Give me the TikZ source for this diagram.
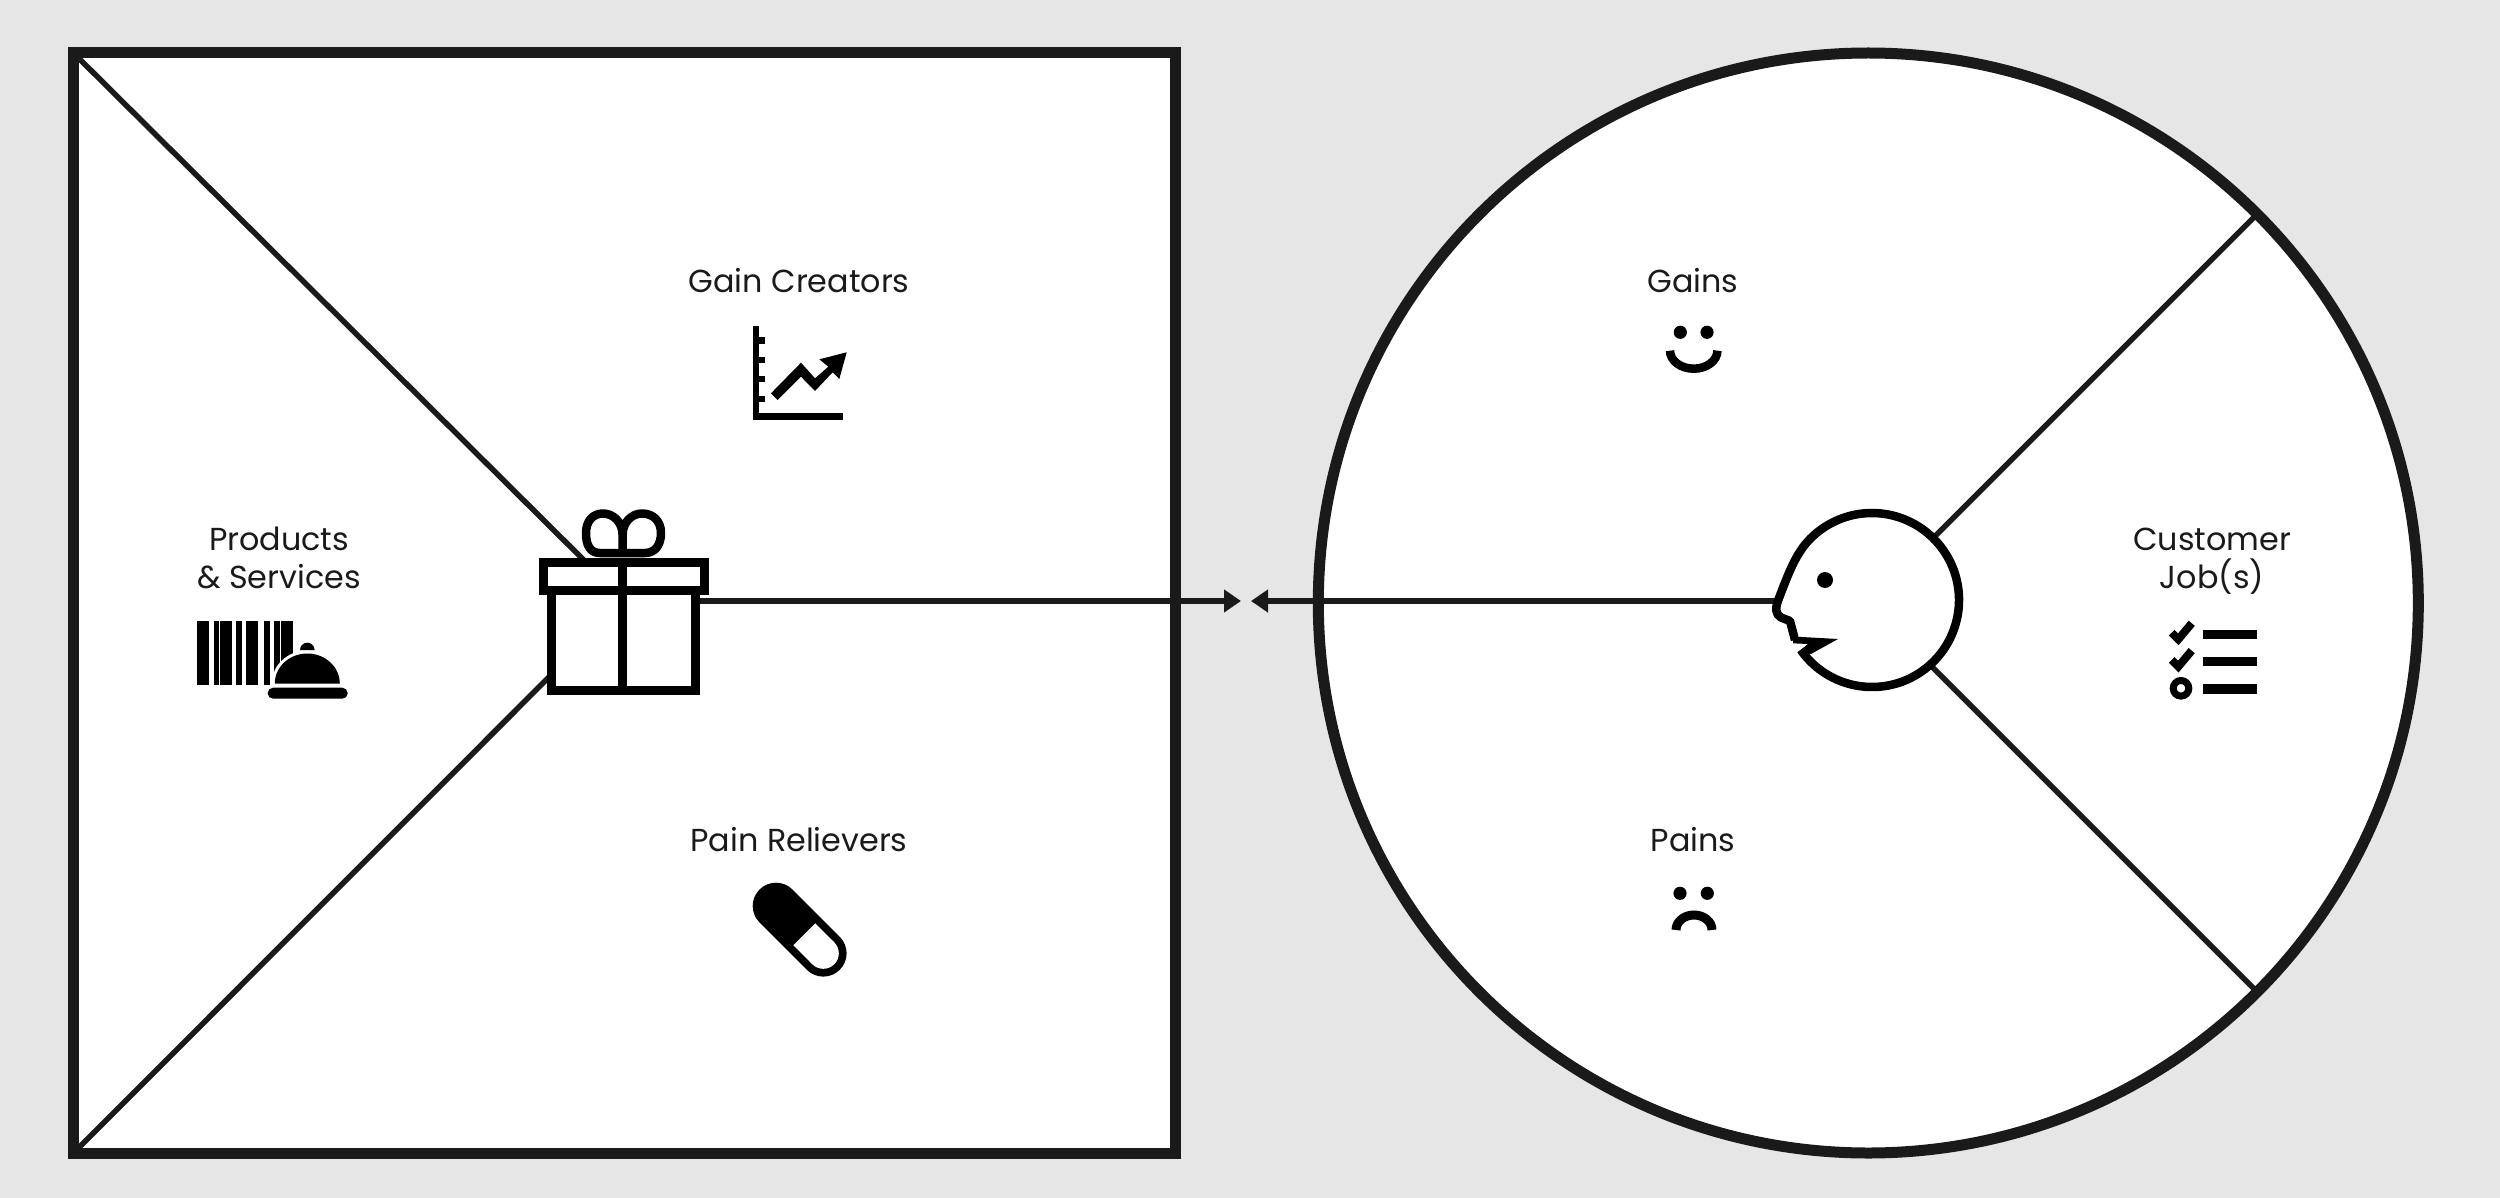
\documentclass[tikz,border=0pt]{standalone}
\usepackage{fontspec}
\usetikzlibrary{arrows.meta,calc}
\setmainfont{Poppins}
\definecolor{ink}{HTML}{1A1A1A}
\definecolor{paper}{HTML}{E6E6E6}
\tikzset{
  label text/.style={font=\fontsize{31.8}{38}\selectfont, text=ink, align=center, inner sep=0pt},
  frame line/.style={draw=ink, line width=11pt},
  thin line/.style={draw=ink, line width=5.5pt},
  icon line/.style={draw=black, line width=9pt},
  link arrow/.style={draw=ink, line width=5.5pt, -{Triangle[length=17pt,width=22pt]}},
}
\begin{document}
\begin{tikzpicture}[x=1pt,y=1pt,yscale=-1]
\path[fill=paper] (0,0) rectangle (2500,1198);
\useasboundingbox (0,0) rectangle (2500,1198);
% ---- square
\coordinate (sqTL) at (73.5,53);
\coordinate (sqBR) at (1175.5,1153);
\coordinate (sqBL) at (73.5,1153);
\coordinate (sqC) at (625,601);
\path[fill=white] (sqTL) rectangle (sqBR);
\draw[thin line] (sqTL) -- (sqC);
\draw[thin line] (sqBL) -- (sqC);
% ---- circle
\coordinate (hc) at (1872,600);
\coordinate (cc) at (1868.3,603);
\path[fill=white] (cc) circle[radius=550];
\coordinate (rayA) at ($(cc)+(-45:550)$);
\coordinate (rayB) at ($(cc)+(45:550)$);
\draw[thin line] (cc) -- (rayA);
\draw[thin line] (cc) -- (rayB);
\path[fill=white] (hc) circle[radius=87];
% ---- connectors
\coordinate (giftR) at (699,601);
\coordinate (tipR) at (1241,601);
\coordinate (nose) at (1778,601);
\coordinate (tipL) at (1251,601);
\draw[link arrow] (giftR) -- (tipR);
\draw[link arrow] (nose) -- (tipL);
% frame redraw over the arrow
\draw[frame line] (sqTL) rectangle (sqBR);
\draw[frame line] (cc) circle[radius=550];
% ---- gift
\draw[icon line, fill=white] (551.5,590) rectangle (695,690);
\draw[icon line, fill=white] (543.5,562) rectangle (704.5,590);
\draw[icon line] (622.6,562) -- (622.6,690);
\draw[draw=black, line width=8.5pt, line join=round] (622.6,553) -- (600,553) .. controls (590,553) and (586,545) .. (586,533) .. controls (586,521) and (593,513.5) .. (603,513.5) .. controls (613,513.5) and (622.6,522) .. (622.6,535) -- (622.6,553) -- (645,553) .. controls (655,553) and (661,545) .. (661,533) .. controls (661,521) and (653,513.5) .. (642,513.5) .. controls (632,513.5) and (622.6,522) .. (622.6,535);
% ---- head
\draw[draw=black, line width=8.5pt, line join=round] ($(hc)+(145:87)$) arc[start angle=145,end angle=-135,radius=87] .. controls (1796,553) and (1789,572) .. (1779,598) .. controls (1775,608) and (1775,614) .. (1781,617.5) -- (1790,621) -- (1795,640);
\fill[black] (1793,636.5) -- (1838,639) -- (1811,654) -- (1798,652) -- (1808,644) -- (1793,643.3) -- cycle;
\fill[black] (1825,580) circle[radius=8];
% ---- labels
\node[label text] (gc) at (799,280.5) {Gain Creators};
\node[label text] (pr) at (799,840) {Pain Relievers};
\node[label text] (ps) at (279,558) {Products\\\& Services};
\node[label text] (ga) at (1693,280.5) {Gains};
\node[label text] (pa) at (1693,840) {Pains};
\node[label text] (cj) at (2212,561) {Customer\\Job(s)};
% ---- chart icon
\fill[black] (752.7,326) rectangle (759.3,420);
\fill[black] (752.7,412.7) rectangle (843,420);
\fill[black] (759,336.7) rectangle (765,344);
\fill[black] (759,356.7) rectangle (765,363.3);
\fill[black] (759,376) rectangle (765,382.3);
\fill[black] (759,395.7) rectangle (765,401.7);
\fill[black] (771,393.3) -- (801,362.7) -- (815,378.3) -- (828.3,366.7) -- (819.3,359.3) -- (846.7,352.3) -- (839.3,379) -- (832.7,372.3) -- (815,391) -- (801,376.7) -- (777.7,400) -- cycle;
% ---- barcode + bell
\foreach \a/\b in {80/117,131/147,151/185,198/217,229/263,281/299,311/330,333/370}
  \fill[black] ({170+\a/3},621) rectangle ({170+\b/3},685.3);
\path[fill=white,draw=white,line width=6pt] (274.8,683.5) arc[start angle=180,end angle=360,x radius=32.5,y radius=30] -- cycle;
\fill[black] (274.8,683.5) arc[start angle=180,end angle=360,x radius=32.5,y radius=30] -- cycle;
\fill[black] (300,650) arc[start angle=180,end angle=360,radius=7.3] -- cycle;
\fill[black,rounded corners=5.4pt] (267.7,687.7) rectangle (347.7,698.7);
% ---- pill
\coordinate (pa1) at (776,906);
\coordinate (pa2) at (823.3,953.3);
\coordinate (pd) at (804.3,934.3);
\draw[black,line width=46.6pt,line cap=round] (pa1) -- (pa2);
\draw[white,line width=31pt] (pd) -- (pa2);
\fill[white] (pa2) circle[radius=15.5];
% ---- checklist
\fill[black] (2203.3,630) rectangle (2257.3,639);
\fill[black] (2203.3,657) rectangle (2257.3,666.3);
\fill[black] (2203.3,683.7) rectangle (2257.3,693.7);
\draw[black,line width=8pt] (2171.7,632.7) -- (2178.3,639.3) -- (2191.7,623.3);
\draw[black,line width=8pt] (2171.7,660) -- (2178.3,666.6) -- (2191.7,650.6);
\draw[black,line width=7pt] (2181,688.3) circle[radius=7.8];
% ---- smile
\fill[black] (1680.3,332.3) circle[radius=6.6];
\fill[black] (1707,332.3) circle[radius=6.6];
\draw[black,line width=8.5pt] (1717.4,350.7) arc[start angle=0,end angle=180,x radius=23.7,y radius=18];
% ---- frown
\fill[black] (1680,893.3) circle[radius=6.6];
\fill[black] (1707.3,893.3) circle[radius=6.6];
\draw[black,line width=9pt] (1676,930) arc[start angle=180,end angle=360,x radius=18,y radius=15];
\end{tikzpicture}
\end{document}
